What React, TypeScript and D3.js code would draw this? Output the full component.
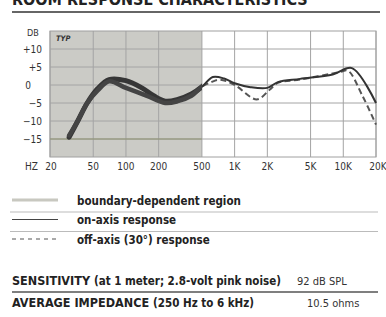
import React from "react";
import * as d3 from "d3";

// on-axis response (Hz, dB)
const onFreq = [30, 36, 44, 55, 70, 100, 140, 180, 230, 300, 400, 500, 630, 800, 1000, 1400, 2000, 2500, 4000, 8000, 12000, 20000];
const onDb = [-14.5, -10, -5, -1, 1.5, 1.2, -0.8, -3, -4.5, -4, -2.5, -0.5, 2.2, 1.8, 0.5, -0.6, -0.8, 0.8, 1.7, 2.9, 4.7, -5];

// off-axis (30 deg) response
const offFreq = [30, 36, 44, 55, 70, 100, 156, 230, 300, 400, 500, 600, 730, 1000, 1600, 2100, 2500, 4000, 9300, 11000, 15000, 20000];
const offDb = [-14, -10, -5, -1.5, 1, -0.8, -3, -5, -4.5, -3, -0.5, 0.7, 1.5, 0, -4, -1.3, 0.6, 1.5, 3.6, 4, -3, -11];

const xTicks = [20, 50, 100, 200, 500, 1000, 2000, 5000, 10000, 20000];
const xLabels = ["20", "50", "100", "200", "500", "1K", "2K", "5K", "10K", "20K"];
const yTicks = [10, 5, 0, -5, -10, -15];
const yLabels = ["+10", "+5", "0", "\u22125", "\u221210", "\u221215"];
const boundaryEnd = 500;

const legendItems = ["boundary-dependent region", "on-axis response", "off-axis (30\u00b0) response"];

const font = "'Liberation Sans Narrow', 'DejaVu Sans Condensed', 'Liberation Sans', sans-serif";

const W = 386;
const H = 317;
const m = { left: 50, right: 376, top: 31, bottom: 157 };

export default function App() {
  const x = d3.scaleLog().domain([20, 20000]).range([m.left, m.right]);
  const y = d3.scaleLinear().domain([-20, 15]).range([m.bottom, m.top]);

  const line = d3
    .line<[number, number]>()
    .x((d) => x(d[0]))
    .y((d) => y(d[1]))
    .curve(d3.curveCatmullRom.alpha(0.5));

  const onPts = onFreq.map((f, i) => [f, onDb[i]] as [number, number]);
  const offPts = offFreq.map((f, i) => [f, offDb[i]] as [number, number]);
  const onPath = line(onPts) ?? "";
  const offPath = line(offPts) ?? "";

  const xb = x(boundaryEnd);

  return (
    <div style={{ position: "fixed", left: 0, top: 0 }}>
      <svg width={W} height={H} style={{ display: "block", background: "#fff" }} fontFamily={font}>
        <defs>
          <clipPath id="boundary">
            <rect x={m.left} y={0} width={xb - m.left} height={H} />
          </clipPath>
          <clipPath id="rest">
            <rect x={xb} y={0} width={W - xb} height={H} />
          </clipPath>
        </defs>

        {/* title, cut at the top edge as in the scan */}
        <text x={12} y={5} fontSize={16} fontWeight="bold" fill="#222">
          ROOM RESPONSE CHARACTERISTICS
        </text>
        <line x1={12} x2={380} y1={12} y2={12} stroke="#333" strokeWidth={1.6} />

        {/* shaded boundary region */}
        <rect x={m.left} y={m.top} width={xb - m.left} height={m.bottom - m.top} fill="#cbcbc6" />

        {/* grid */}
        {yTicks.map((t) => (
          <line key={"h" + t} x1={m.left} x2={m.right} y1={y(t)} y2={y(t)} stroke="#a4a4a4" strokeWidth={1} />
        ))}
        {xTicks.map((t) => (
          <line key={"v" + t} x1={x(t)} x2={x(t)} y1={m.top} y2={m.bottom} stroke="#a4a4a4" strokeWidth={1} />
        ))}
        <rect x={m.left} y={m.top} width={m.right - m.left} height={m.bottom - m.top} fill="none" stroke="#a0a0a0" strokeWidth={1} />
        <line x1={m.left} x2={xb} y1={y(-15)} y2={y(-15)} stroke="#8e9270" strokeWidth={1.2} />

        <text x={56} y={41} fontSize={7.5} fontWeight="bold" fontStyle="italic" fill="#333">
          TYP
        </text>

        {/* y labels */}
        <text x={27} y={36} fontSize={9} fill="#333">DB</text>
        {yTicks.map((t, i) => (
          <text
            key={"yl" + t}
            x={t === 0 ? 28 : 42}
            y={y(t) + 3.5}
            fontSize={10}
            fill="#333"
            textAnchor={t === 0 ? "middle" : "end"}
          >
            {yLabels[i]}
          </text>
        ))}

        {/* x labels */}
        <text x={25} y={170} fontSize={10} fill="#333">HZ</text>
        {xTicks.map((t, i) => (
          <text key={"xl" + t} x={t === 20 ? x(t) + 1 : t === 20000 ? x(t) + 2 : x(t)} y={170} fontSize={10} fill="#333" textAnchor="middle">
            {xLabels[i]}
          </text>
        ))}

        {/* curves inside boundary region: heavy band */}
        <g clipPath="url(#boundary)">
          <path d={onPath} fill="none" stroke="#363636" strokeWidth={5} strokeLinecap="round" />
          <path d={offPath} fill="none" stroke="#444" strokeWidth={4.5} strokeLinecap="round" />
        </g>
        <g clipPath="url(#rest)">
          <path d={offPath} fill="none" stroke="#555" strokeWidth={2} strokeDasharray="6,3.5" />
          <path d={onPath} fill="none" stroke="#333" strokeWidth={2} />
        </g>

        {/* legend */}
        {legendItems.map((label, i) => {
          const cy = 203 + i * 19.5;
          return (
            <g key={label}>
              {i === 0 && <line x1={12} x2={58} y1={cy - 3} y2={cy - 3} stroke="#c8c8c0" strokeWidth={3} />}
              {i === 1 && <line x1={12} x2={58} y1={cy - 3} y2={cy - 3} stroke="#444" strokeWidth={1.2} />}
              {i === 2 && <line x1={12} x2={58} y1={cy - 3} y2={cy - 3} stroke="#555" strokeWidth={1.2} strokeDasharray="4,4" />}
              <text x={77} y={cy + 1.5} fontSize={11.5} fontWeight="bold" fill="#222">
                {label}
              </text>
              {i < 2 && <line x1={10} x2={378} y1={cy + 9} y2={cy + 9} stroke="#bbb" strokeWidth={1} />}
            </g>
          );
        })}

        {/* specs */}
        <text x={12} y={285} fontSize={12.5} fontWeight="bold" fill="#222">
          SENSITIVITY <tspan fontSize={11.5}>(at 1 meter; 2.8-volt pink noise)</tspan>
        </text>
        <text x={297} y={285} fontSize={11} fill="#333">92 dB SPL</text>
        <line x1={12} x2={378} y1={292} y2={292} stroke="#555" strokeWidth={1.3} />
        <text x={12} y={307} fontSize={12.5} fontWeight="bold" fill="#222">
          AVERAGE IMPEDANCE <tspan fontSize={11.5}>(250 Hz to 6 kHz)</tspan>
        </text>
        <text x={307} y={307} fontSize={11} fill="#333">10.5 ohms</text>
      </svg>
    </div>
  );
}
